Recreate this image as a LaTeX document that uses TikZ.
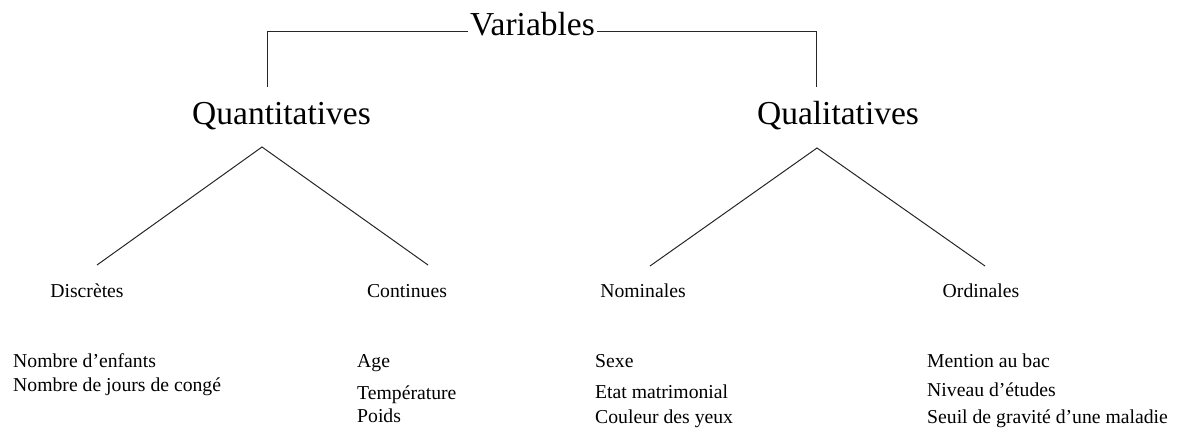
\documentclass[tikz,border=0pt]{standalone}
\usepackage{fontspec}
\setmainfont{Liberation Serif}
\begin{document}
\begin{tikzpicture}[x=1pt,y=-1pt,
  big/.style={font=\fontsize{33.5}{40}\selectfont, inner sep=0pt, anchor=base},
  mid/.style={font=\fontsize{19.7}{23}\selectfont, inner sep=0pt, anchor=base},
  item/.style={font=\fontsize{19.7}{23}\selectfont, inner sep=0pt, anchor=base west},
  link/.style={draw=black!85, line width=1pt}]
\useasboundingbox (0,0) rectangle (1178,433);
% top level
\node[big, inner xsep=2pt] (var) at (532.5,36) {Variables};
\node[big] (quant) at (281.5,125) {Quantitatives};
\node[big] (qual) at (838,125) {Qualitatives};
\coordinate (lt) at (267,87);
\coordinate (rt) at (816,87);
\draw[link] ([yshift=4pt]var.base west) -| (lt);
\draw[link] ([yshift=4pt]var.base east) -| (rt);
% second level
\node[mid] (disc) at (87,297) {Discrètes};
\node[mid] (cont) at (407,297) {Continues};
\node[mid] (nom) at (643,297) {Nominales};
\node[mid] (ord) at (981,297) {Ordinales};
\coordinate (qa) at (262,147);
\coordinate (qd) at (97,265);
\coordinate (qc) at (428,265);
\coordinate (la) at (817,148);
\coordinate (ln) at (650,266);
\coordinate (lo) at (985,266);
\draw[link] (qd) -- (qa) -- (qc);
\draw[link] (ln) -- (la) -- (lo);
% examples
\node[item] (d1) at (13,367) {Nombre d’enfants};
\node[item] (d2) at (13,391) {Nombre de jours de congé};
\node[item] (c1) at (357,367) {Age};
\node[item] (c2) at (357,399) {Température};
\node[item] (c3) at (357,422) {Poids};
\node[item] (n1) at (595,367) {Sexe};
\node[item] (n2) at (595,398) {Etat matrimonial};
\node[item] (n3) at (595,423) {Couleur des yeux};
\node[item] (o1) at (927,367) {Mention au bac};
\node[item] (o2) at (927,396) {Niveau d’études};
\node[item] (o3) at (927,423) {Seuil de gravité d’une maladie};
\end{tikzpicture}
\end{document}
